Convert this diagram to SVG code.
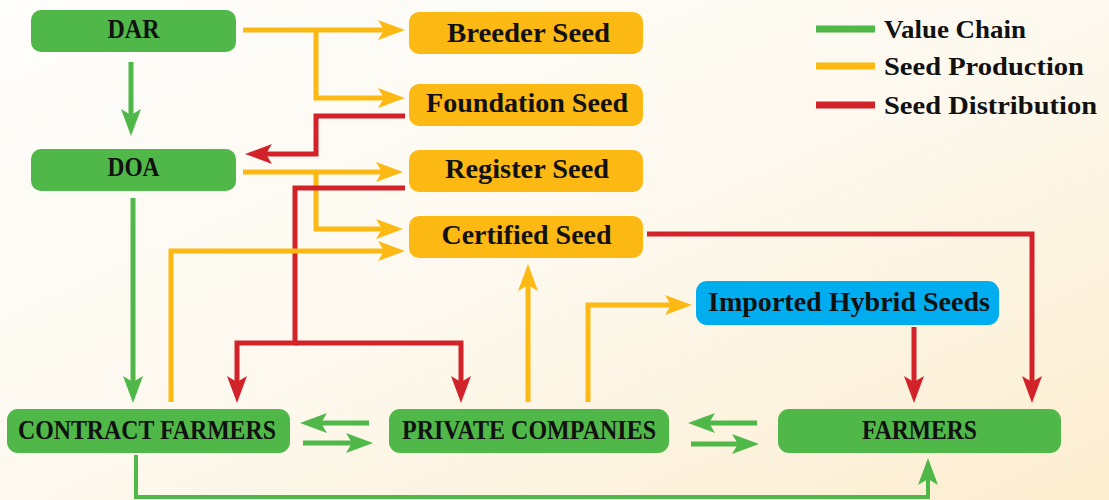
<svg xmlns="http://www.w3.org/2000/svg" width="1109" height="500" viewBox="0 0 1109 500">
<defs>
<linearGradient id="bg" x1="0" y1="0" x2="1" y2="1">
<stop offset="0" stop-color="#FDFDFB"/>
<stop offset="0.5" stop-color="#FDF9EF"/>
<stop offset="1" stop-color="#FCEDCF"/>
</linearGradient>
<marker id="aY" viewBox="0 0 27 20" refX="13" refY="10" markerWidth="27" markerHeight="20" markerUnits="userSpaceOnUse" orient="auto"><path d="M27,10 L0,0 L6,10 L0,20 Z" fill="#FDB913"/></marker>
<marker id="aR" viewBox="0 0 27 20" refX="13" refY="10" markerWidth="27" markerHeight="20" markerUnits="userSpaceOnUse" orient="auto"><path d="M27,10 L0,0 L6,10 L0,20 Z" fill="#D2232A"/></marker>
<marker id="aG" viewBox="0 0 27 20" refX="13" refY="10" markerWidth="27" markerHeight="20" markerUnits="userSpaceOnUse" orient="auto"><path d="M27,10 L0,0 L6,10 L0,20 Z" fill="#50B848"/></marker>
</defs>
<style>
.g{fill:#50B848}
.y{fill:#FDB913}
.b{fill:#00AEEF}
.t{font-family:"Liberation Serif","Times New Roman",serif;font-weight:bold;font-size:27px;fill:#111}
.l{font-size:26px}
.c{stroke-width:5;fill:none;stroke-linejoin:miter}
.cy{stroke:#FDB913}
.cr{stroke:#D2232A}
.cg{stroke:#50B848}
</style>
<rect x="0" y="0" width="1109" height="500" fill="url(#bg)"/>

<g id="connectors">
<path class="c cy" d="M243,30 H391" marker-end="url(#aY)"/>
<path class="c cy" d="M316,30 V98 H391" marker-end="url(#aY)"/>
<path class="c cg" d="M131,62 V122" marker-end="url(#aG)"/>
<path class="c cr" d="M405,116 H316 V154 H259" marker-end="url(#aR)"/>
<path class="c cy" d="M243,172 H389" marker-end="url(#aY)"/>
<path class="c cy" d="M316,172 V229 H389" marker-end="url(#aY)"/>
<path class="c cr" d="M405,188 H295 V343 H237 V389" marker-end="url(#aR)"/>
<path class="c cr" d="M295,343 H461 V389" marker-end="url(#aR)"/>
<path class="c cg" d="M133,198 V389" marker-end="url(#aG)"/>
<path class="c cy" d="M171,402 V251 H391" marker-end="url(#aY)"/>
<path class="c cy" d="M528,402 V278" marker-end="url(#aY)"/>
<path class="c cy" d="M588,402 V305 H678" marker-end="url(#aY)"/>
<path class="c cr" d="M647,234 H1032 V389" marker-end="url(#aR)"/>
<path class="c cr" d="M914,327 V389" marker-end="url(#aR)"/>
<path class="c cg" d="M369,423 H314" marker-end="url(#aG)"/>
<path class="c cg" d="M303,443 H359" marker-end="url(#aG)"/>
<path class="c cg" d="M757,423 H702" marker-end="url(#aG)"/>
<path class="c cg" d="M691,444 H745" marker-end="url(#aG)"/>
<path class="c cg" style="stroke-width:4" d="M136,455 V497 H928 V472" marker-end="url(#aG)"/>
</g>

<g id="DAR"><rect class="g" x="31" y="10" width="205" height="42" rx="10"/><text class="t" x="133.5" y="38" text-anchor="middle" textLength="52" lengthAdjust="spacingAndGlyphs">DAR</text></g>
<g id="DOA"><rect class="g" x="31" y="149" width="205" height="42" rx="10"/><text class="t" x="133.5" y="176" text-anchor="middle" textLength="52" lengthAdjust="spacingAndGlyphs">DOA</text></g>
<g id="breeder"><rect class="y" x="409" y="12" width="234" height="42" rx="10"/><text class="t" x="528.5" y="42" text-anchor="middle" textLength="163" lengthAdjust="spacingAndGlyphs">Breeder Seed</text></g>
<g id="foundation"><rect class="y" x="409" y="84" width="234" height="42" rx="10"/><text class="t" x="527" y="112" text-anchor="middle" textLength="202" lengthAdjust="spacingAndGlyphs">Foundation Seed</text></g>
<g id="register"><rect class="y" x="409" y="150" width="234" height="42" rx="10"/><text class="t" x="527" y="178" text-anchor="middle" textLength="164" lengthAdjust="spacingAndGlyphs">Register Seed</text></g>
<g id="certified"><rect class="y" x="409" y="216" width="234" height="42" rx="10"/><text class="t" x="526.5" y="244" text-anchor="middle" textLength="170" lengthAdjust="spacingAndGlyphs">Certified Seed</text></g>
<g id="imported"><rect class="b" x="696" y="281" width="303" height="44" rx="11"/><text class="t" x="849" y="311" text-anchor="middle" textLength="282" lengthAdjust="spacingAndGlyphs">Imported Hybrid Seeds</text></g>
<g id="contract"><rect class="g" x="7" y="409" width="283" height="44" rx="11"/><text class="t" x="147" y="439" text-anchor="middle" textLength="258" lengthAdjust="spacingAndGlyphs">CONTRACT FARMERS</text></g>
<g id="private"><rect class="g" x="389" y="409" width="280" height="44" rx="11"/><text class="t" x="529" y="439" text-anchor="middle" textLength="254" lengthAdjust="spacingAndGlyphs">PRIVATE COMPANIES</text></g>
<g id="farmers"><rect class="g" x="778" y="409" width="283" height="44" rx="11"/><text class="t" x="919.5" y="439" text-anchor="middle" textLength="115" lengthAdjust="spacingAndGlyphs">FARMERS</text></g>

<g id="legend">
<rect x="816" y="25.5" width="59" height="7" fill="#50B848"/>
<rect x="816" y="62.5" width="59" height="7" fill="#FDB913"/>
<rect x="816" y="101.5" width="59" height="7" fill="#D2232A"/>
<text class="t l" x="884" y="38" textLength="142" lengthAdjust="spacingAndGlyphs">Value Chain</text>
<text class="t l" x="884" y="75" textLength="200" lengthAdjust="spacingAndGlyphs">Seed Production</text>
<text class="t l" x="884" y="114" textLength="213" lengthAdjust="spacingAndGlyphs">Seed Distribution</text>
</g>
</svg>
